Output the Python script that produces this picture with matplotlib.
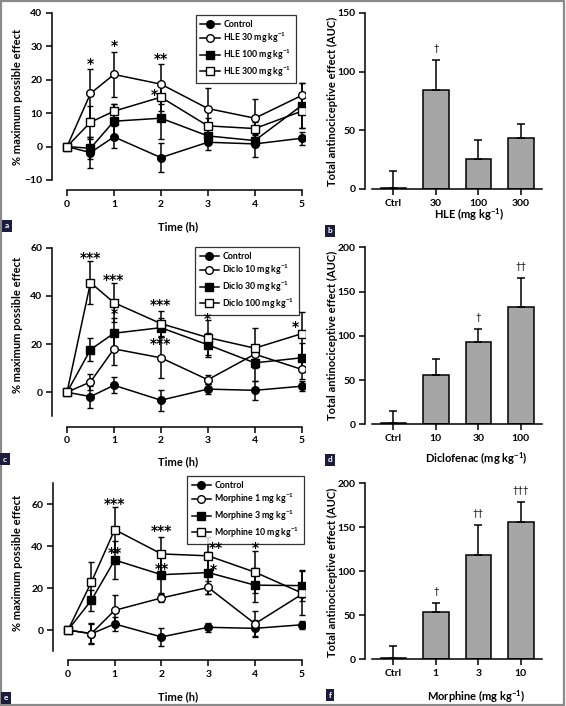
import numpy as np
import matplotlib
matplotlib.use("Agg")
import matplotlib.pyplot as plt
from matplotlib.patches import Rectangle

plt.rcParams['font.family'] = ['Lato', 'DejaVu Sans']
plt.rcParams['font.weight'] = 'bold'
plt.rcParams['mathtext.fontset'] = 'custom'
plt.rcParams['mathtext.rm'] = 'Lato:bold'
plt.rcParams['mathtext.bf'] = 'Lato:bold'
plt.rcParams['axes.linewidth'] = 1.1

# ---- time course data (% MPE) ----
time = [0, 0.5, 1, 2, 3, 4, 5]

ctrl_mean = [0, -1.8, 2.9, -3.3, 1.3, 0.8, 2.5]
ctrl_err = [0, 4.6, 3.4, 4.4, 2.2, 3.9, 2.0]

hle30_mean = [0, 15.9, 21.6, 18.7, 11.4, 8.5, 15.3]
hle30_err = [0, 7.2, 6.8, 6.0, 6.0, 5.7, 3.6]
hle100_mean = [0, -0.5, 7.6, 8.5, 3.2, 1.8, 12.3]
hle100_err = [0, 3.3, 5.3, 6.3, 2.0, 2.0, 6.6]
hle300_mean = [0, 7.3, 10.6, 14.8, 6.2, 5.4, 10.6]
hle300_err = [0, 5.0, 2.3, 4.0, 2.5, 2.0, 5.0]

diclo10_mean = [0, 4.3, 18.0, 14.3, 5.2, 15.8, 9.5]
diclo10_err = [0, 3.2, 6.7, 8.5, 1.8, 2.0, 4.2]
diclo30_mean = [0, 17.7, 24.5, 26.8, 19.7, 12.2, 14.3]
diclo30_err = [0, 4.9, 6.2, 4.0, 4.9, 7.5, 6.0]
diclo100_mean = [0, 45.5, 37.2, 28.5, 22.7, 18.3, 24.3]
diclo100_err = [0, 8.8, 8.0, 5.2, 7.3, 8.3, 9.0]

morph1_mean = [0, -1.7, 9.4, 15.3, 20.3, 3.0, 17.0]
morph1_err = [0, 5.0, 7.2, 1.7, 3.0, 6.0, 1.0]
morph3_mean = [0, 14.2, 33.4, 26.4, 27.4, 21.4, 21.2]
morph3_err = [0, 5.0, 9.2, 8.5, 10.0, 8.2, 7.5]
morph10_mean = [0, 22.8, 47.9, 36.3, 35.4, 27.6, 17.7]
morph10_err = [0, 9.6, 10.8, 8.2, 9.0, 10.0, 10.5]

# significance marks (x, y, text)
stars_a = [(0.5, 25.6, '*'), (1, 30.9, '*'), (2, 26.9, '**'), (1.86, 16.2, '*')]
stars_c = [(0.5, 57, '***'), (1, 47.6, '***'), (1, 33.8, '*'), (2, 37.2, '***'),
           (2, 21, '***'), (3, 31.7, '*'), (4.87, 28.2, '*')]
stars_e = [(1, 61.6, '***'), (1, 38.1, '**'), (2, 48.4, '***'), (2, 30.2, '**'),
           (3.17, 40.5, '**'), (3.12, 29.8, '*'), (4, 40.5, '*')]

# ---- AUC data ----
hle_doses = ['Ctrl', '30', '100', '300']
hle_auc = [1, 84, 25.5, 43.7]
hle_auc_err = [14, 26, 16.5, 12]
hle_sig = ['', '†', '', '']

diclo_doses = ['Ctrl', '10', '30', '100']
diclo_auc = [1, 55.7, 93.3, 132.2]
diclo_auc_err = [14, 18, 14, 33.5]
diclo_sig = ['', '', '†', '††']

morph_doses = ['Ctrl', '1', '3', '10']
morph_auc = [1, 53.4, 118.2, 156]
morph_auc_err = [14, 10.2, 34, 22.4]
morph_sig = ['', '†', '††', '†††']

W, H = 566, 706
fig = plt.figure(figsize=(W / 100, H / 100), dpi=100)


def px_axes(x0, y0, x1, y1):
    return fig.add_axes([x0 / W, 1 - y1 / H, (x1 - x0) / W, (y1 - y0) / H])


def time_panel(ax, series, labels, ylim, ybounds, yticks, stars, leg_box):
    styles = [dict(marker='o', mfc='black'), dict(marker='o', mfc='white'),
              dict(marker='s', mfc='black'), dict(marker='s', mfc='white')]
    for (m, e), lab, st in zip(series, labels, styles):
        ax.errorbar(time, m, yerr=e, color='black', lw=1.1, elinewidth=1.1,
                    capsize=2.5, capthick=1.1, marker=st['marker'], ms=5.5,
                    mfc=st['mfc'], mec='black', mew=1.0, label=lab)
    ax.set_xlim(-0.32, 5.07)
    ax.set_ylim(*ylim)
    ax.set_xticks(range(6))
    ax.set_yticks(yticks)
    ax.spines['top'].set_visible(False)
    ax.spines['right'].set_visible(False)
    ax.spines['left'].set_bounds(*ybounds)
    ax.spines['bottom'].set_bounds(0, 5)
    ax.tick_params(direction='out', length=4, width=1.1, labelsize=7.5, pad=3)
    handles, labs = ax.get_legend_handles_labels()
    handles = [h[0] for h in handles]
    x0, y0, x1, y1 = leg_box
    leg = ax.legend(handles, labs, loc='upper right', fontsize=6.3,
                    frameon=True, fancybox=False, edgecolor='black',
                    handlelength=2.2, borderpad=0.5, labelspacing=0.25,
                    handletextpad=0.4,
                    bbox_to_anchor=(x1 / W, 1 - y0 / H),
                    bbox_transform=fig.transFigure)
    leg.get_frame().set_linewidth(0.9)
    leg.set_zorder(2)
    for x, y, s in stars:
        ax.text(x, y - 1.5 * (ylim[1] - ylim[0]) / 100, s, ha='center',
                va='center', fontsize=10, fontweight='bold',
                family='DejaVu Sans', zorder=5)


def bar_panel(ax, doses, vals, errs, sig, ylim, yticks):
    xs = np.arange(len(doses))
    ax.bar(xs, vals, width=0.6, color='#a6a6a6', edgecolor='black', lw=1.1,
           yerr=[np.zeros(len(errs)), errs], capsize=3,
           error_kw=dict(elinewidth=1.1, capthick=1.1))
    for x, v, e, s in zip(xs, vals, errs, sig):
        if s:
            ax.text(x, v + e + ylim[1] * 0.04, s, ha='center', va='bottom',
                    fontsize=7, fontweight='normal')
    ax.set_xlim(-0.665, 3.5)
    ax.set_ylim(*ylim)
    ax.set_xticks(xs)
    ax.set_xticklabels(doses)
    ax.set_yticks(yticks)
    ax.spines['top'].set_visible(False)
    ax.spines['right'].set_visible(False)
    ax.spines['bottom'].set_bounds(-0.5, 3.5)
    ax.tick_params(direction='out', length=4, width=1.1, labelsize=7.5, pad=3)


# ---- panel a ----
ax_a = px_axes(52, 13, 305, 190)
time_panel(ax_a, [(ctrl_mean, ctrl_err), (hle30_mean, hle30_err),
                  (hle100_mean, hle100_err), (hle300_mean, hle300_err)],
           ['Control', 'HLE 30 mg kg$^{-1}$', 'HLE 100 mg kg$^{-1}$', 'HLE 300 mg kg$^{-1}$'],
           (-13, 40), (-10, 40), [-10, 0, 10, 20, 30, 40], stars_a, (202, 11, 300, 74))

# ---- panel c ----
ax_c = px_axes(52, 247.7, 305, 426.7)
time_panel(ax_c, [(ctrl_mean, ctrl_err), (diclo10_mean, diclo10_err),
                  (diclo30_mean, diclo30_err), (diclo100_mean, diclo100_err)],
           ['Control', 'Diclo 10 mg kg$^{-1}$', 'Diclo 30 mg kg$^{-1}$', 'Diclo 100 mg kg$^{-1}$'],
           (-14.3, 60), (-10, 60), [0, 20, 40, 60], stars_c, (199, 243, 303, 305))

# ---- panel e ----
ax_e = px_axes(53, 483.3, 305, 660)
time_panel(ax_e, [(ctrl_mean, ctrl_err), (morph1_mean, morph1_err),
                  (morph3_mean, morph3_err), (morph10_mean, morph10_err)],
           ['Control', 'Morphine 1 mg kg$^{-1}$', 'Morphine 3 mg kg$^{-1}$',
            'Morphine 10 mg kg$^{-1}$'],
           (-14.3, 70), (-10, 70), [0, 20, 40, 60], stars_e, (191, 472, 308, 535))

# ---- bar panels ----
ax_b = px_axes(365, 13, 542, 189)
bar_panel(ax_b, hle_doses, hle_auc, hle_auc_err, hle_sig, (0, 150), [0, 50, 100, 150])
ax_d = px_axes(365, 247.3, 542, 424.3)
bar_panel(ax_d, diclo_doses, diclo_auc, diclo_auc_err, diclo_sig, (0, 200),
          [0, 50, 100, 150, 200])
ax_f = px_axes(365, 483.3, 542, 659.3)
bar_panel(ax_f, morph_doses, morph_auc, morph_auc_err, morph_sig, (0, 200),
          [0, 50, 100, 150, 200])

# ---- axis labels ----
lab = dict(fontsize=8, fontweight='bold', ha='center', va='center')
for yc in (97, 325, 563):
    fig.text(18 / W, 1 - yc / H, '% maximum possible effect', rotation=90, **lab)
for yc, t in ((227, 'Time (h)'), (461.5, 'Time (h)'), (697, 'Time (h)')):
    fig.text(178 / W, 1 - yc / H, t, **lab)
for yc in (101, 335, 572):
    fig.text(332 / W, 1 - yc / H, 'Total antinociceptive effect (AUC)', rotation=90, **lab)
for xc, yc, t in ((469, 215, 'HLE (mg kg$^{-1}$)'), (476, 459, 'Diclofenac (mg kg$^{-1}$)'),
                  (476, 697, 'Morphine (mg kg$^{-1}$)')):
    fig.text(xc / W, 1 - yc / H, t, **lab)

# ---- panel letters ----
for x, y, s in ((7, 226, 'a'), (330, 231, 'b'), (5, 459, 'c'), (330, 460, 'd'),
                (6, 698, 'e'), (330, 695, 'f')):
    fig.text(x / W, 1 - y / H, s, color='white', fontsize=6, fontweight='bold',
             ha='center', va='center',
             bbox=dict(boxstyle='square,pad=0.35', fc='#1c1c3c', ec='none'))

# frame
fig.patches.append(Rectangle((0.001, 0.001), 0.996, 0.997, transform=fig.transFigure,
                             fill=False, ec='#8a8a8a', lw=1.6))

fig.savefig('out.png', dpi=100)
